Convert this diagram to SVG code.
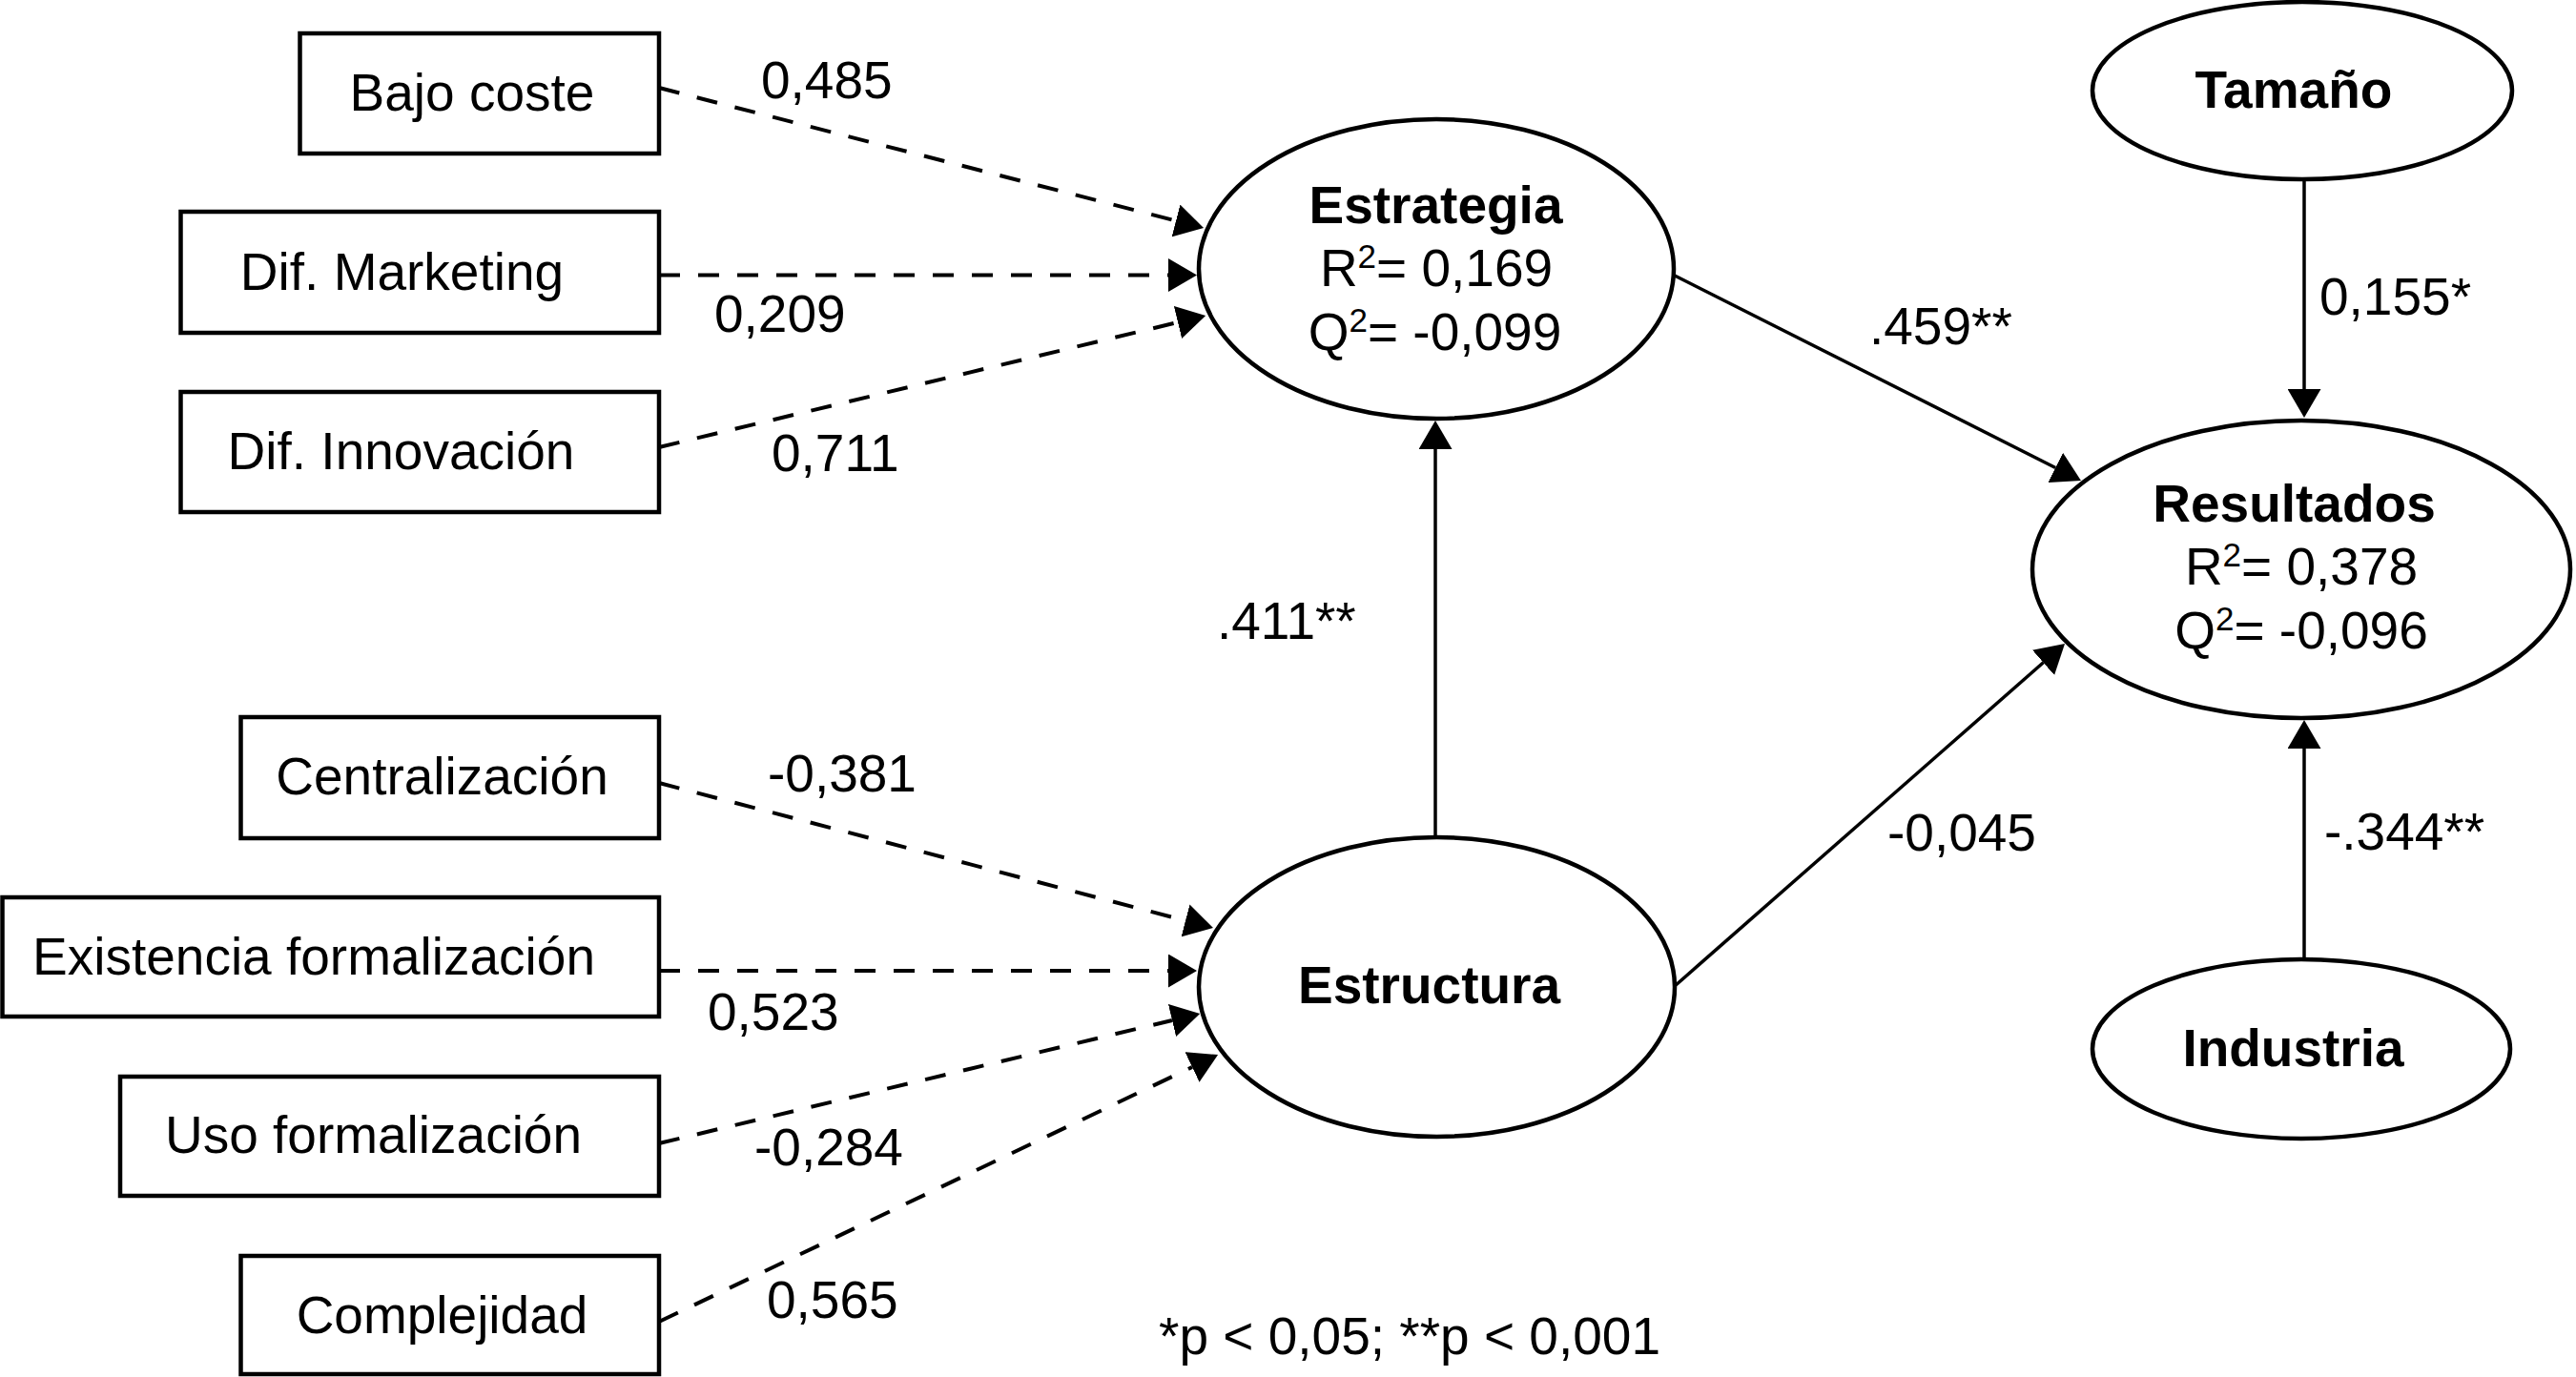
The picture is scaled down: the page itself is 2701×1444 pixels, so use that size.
<svg xmlns="http://www.w3.org/2000/svg" width="2701" height="1444" viewBox="0 0 2701 1444">
<style>
.bg{fill:#fff}
.box{fill:#fff;stroke:#000;stroke-width:4.5}
.ell{fill:#fff;stroke:#000;stroke-width:4.5}
.t{font-family:"Liberation Sans",Arial,Helvetica,sans-serif;font-size:55px;fill:#000}
.b{font-weight:bold}
.m{text-anchor:middle}
.dash{stroke:#000;stroke-width:4;fill:none;stroke-dasharray:22 19}
.solid{stroke:#000;stroke-width:3.5;fill:none}
</style>
<defs>
<marker id="ah" viewBox="0 0 30 35" refX="0" refY="17.5" markerWidth="30" markerHeight="35" markerUnits="userSpaceOnUse" orient="auto">
<path d="M0,0 L30,17.5 L0,35 Z" fill="#000"/>
</marker>
</defs>
<rect class="bg" x="0" y="0" width="2701" height="1444"/>

<g id="connectors">
<line class="dash" x1="691" y1="92" x2="1233" y2="231.5" marker-end="url(#ah)"/>
<line class="dash" x1="691" y1="288.5" x2="1225" y2="288.5" marker-end="url(#ah)"/>
<line class="dash" x1="691" y1="469" x2="1235" y2="338" marker-end="url(#ah)"/>
<line class="dash" x1="691" y1="821" x2="1243" y2="965.4" marker-end="url(#ah)"/>
<line class="dash" x1="691" y1="1018" x2="1225" y2="1018" marker-end="url(#ah)"/>
<line class="dash" x1="691" y1="1199" x2="1229" y2="1070" marker-end="url(#ah)"/>
<line class="dash" x1="691" y1="1386" x2="1250" y2="1119" marker-end="url(#ah)"/>
<line class="solid" x1="1756" y1="289" x2="2155.2" y2="490.5" marker-end="url(#ah)"/>
<line class="solid" x1="1756" y1="1034" x2="2142.5" y2="694.8" marker-end="url(#ah)"/>
<line class="solid" x1="1505" y1="878" x2="1505" y2="471" marker-end="url(#ah)"/>
<line class="solid" x1="2416" y1="189" x2="2416" y2="408" marker-end="url(#ah)"/>
<line class="solid" x1="2416" y1="1006" x2="2416" y2="785" marker-end="url(#ah)"/>
<text class="t" x="798" y="103">0,485</text>
<text class="t" x="749" y="348">0,209</text>
<text class="t" x="809" y="494">0,711</text>
<text class="t" x="805" y="830">-0,381</text>
<text class="t" x="742" y="1080">0,523</text>
<text class="t" x="791" y="1222">-0,284</text>
<text class="t" x="804" y="1382">0,565</text>
<text class="t" x="1276" y="670">.411**</text>
<text class="t" x="1960" y="361">.459**</text>
<text class="t" x="1979" y="892">-0,045</text>
<text class="t" x="2432" y="330">0,155*</text>
<text class="t" x="2437" y="891">-.344**</text>
</g>

<g id="bajo-coste">
<rect class="box" x="314.5" y="35" width="376.5" height="126"/>
<text class="t m" x="495" y="116">Bajo coste</text>
</g>
<g id="dif-marketing">
<rect class="box" x="189.5" y="222" width="501.5" height="127"/>
<text class="t m" x="421.5" y="303.5">Dif. Marketing</text>
</g>
<g id="dif-innovacion">
<rect class="box" x="189.5" y="411" width="501.5" height="126"/>
<text class="t m" x="420.5" y="492">Dif. Innovación</text>
</g>
<g id="centralizacion">
<rect class="box" x="252.5" y="752" width="438.5" height="127"/>
<text class="t m" x="463.5" y="833">Centralización</text>
</g>
<g id="existencia-formalizacion">
<rect class="box" x="2.5" y="941" width="688.5" height="125"/>
<text class="t m" x="329" y="1021.5">Existencia formalización</text>
</g>
<g id="uso-formalizacion">
<rect class="box" x="126" y="1129" width="565" height="125"/>
<text class="t m" x="391.5" y="1209">Uso formalización</text>
</g>
<g id="complejidad">
<rect class="box" x="252.5" y="1317" width="438.5" height="124"/>
<text class="t m" x="463.5" y="1397.5">Complejidad</text>
</g>

<g id="estrategia">
<ellipse class="ell" cx="1506" cy="282" rx="249" ry="157"/>
<text class="t b m" x="1505.5" y="234">Estrategia</text>
<text class="t m" x="1506" y="300">R<tspan font-size="35" dy="-19">2</tspan><tspan dy="19">= 0,169</tspan></text>
<text class="t m" x="1504.5" y="367">Q<tspan font-size="35" dy="-19">2</tspan><tspan dy="19">= -0,099</tspan></text>
</g>
<g id="estructura">
<ellipse class="ell" cx="1506.5" cy="1035" rx="249.5" ry="157"/>
<text class="t b m" x="1498.5" y="1052">Estructura</text>
</g>
<g id="resultados">
<ellipse class="ell" cx="2413" cy="597" rx="282" ry="156"/>
<text class="t b m" x="2405.5" y="547">Resultados</text>
<text class="t m" x="2413" y="613">R<tspan font-size="35" dy="-19">2</tspan><tspan dy="19">= 0,378</tspan></text>
<text class="t m" x="2413" y="680">Q<tspan font-size="35" dy="-19">2</tspan><tspan dy="19">= -0,096</tspan></text>
</g>
<g id="tamano">
<ellipse class="ell" cx="2414" cy="95" rx="220" ry="93"/>
<text class="t b m" x="2405" y="113">Tamaño</text>
</g>
<g id="industria">
<ellipse class="ell" cx="2413" cy="1100" rx="219" ry="94"/>
<text class="t b m" x="2404.5" y="1117.5">Industria</text>
</g>

<text class="t" x="1215" y="1420">*p &lt; 0,05; **p &lt; 0,001</text>
</svg>
